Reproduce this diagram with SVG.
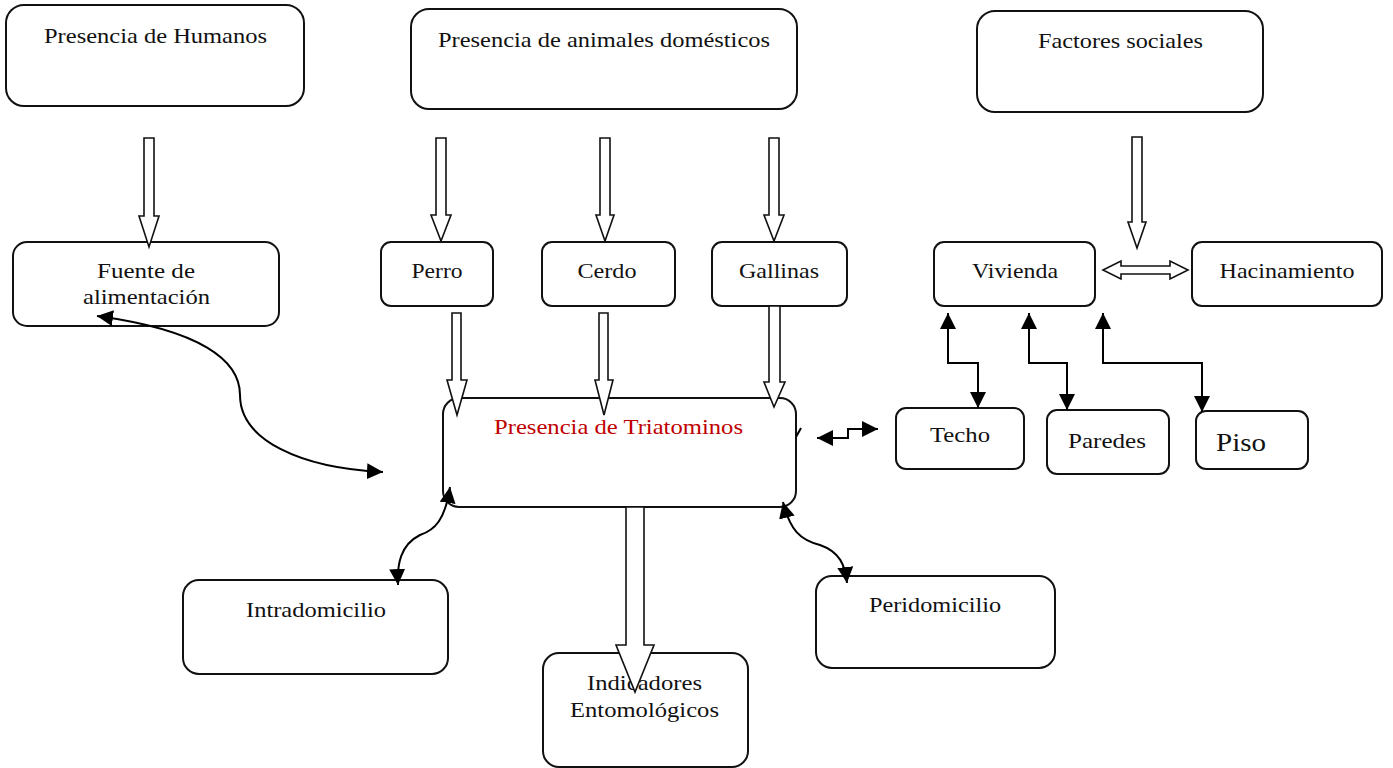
<svg xmlns="http://www.w3.org/2000/svg" width="1393" height="768" viewBox="0 0 1393 768">
<style>
.box{fill:#fff;stroke:#111;stroke-width:2}
.t{font-size:22px;fill:#111;text-anchor:middle}
.red{fill:#c00000}
.ha{fill:#fff;stroke:#111;stroke-width:1.6;stroke-linejoin:miter}
.ln{fill:none;stroke:#000;stroke-width:2;marker-start:url(#ah);marker-end:url(#ah)}
</style>
<defs>
<marker id="ah" viewBox="0 0 10 10" refX="10" refY="5" markerUnits="userSpaceOnUse" markerWidth="16" markerHeight="16" orient="auto-start-reverse">
<path d="M0,0 L10,5 L0,10 z" fill="#000"/>
</marker>
</defs>
<rect width="1393" height="768" fill="#fff"/>
<g id="nodes" font-family="'Liberation Serif', 'Times New Roman', Times, serif">
<g id="n_humanos"><rect class="box" x="6" y="5" width="298" height="101" rx="18"/><text class="t" x="155.5" y="43" textLength="223" lengthAdjust="spacingAndGlyphs">Presencia de Humanos</text></g>
<g id="n_animales"><rect class="box" x="411" y="9" width="386" height="100" rx="18"/><text class="t" x="604" y="47" textLength="332" lengthAdjust="spacingAndGlyphs">Presencia de animales domésticos</text></g>
<g id="n_sociales"><rect class="box" x="977" y="11" width="286" height="101" rx="18"/><text class="t" x="1120.5" y="48" textLength="165" lengthAdjust="spacingAndGlyphs">Factores sociales</text></g>
<g id="n_fuente"><rect class="box" x="13" y="242" width="266" height="84" rx="14"/><text class="t" x="146" y="278" textLength="98" lengthAdjust="spacingAndGlyphs">Fuente de</text><text class="t" x="146.5" y="304" textLength="127" lengthAdjust="spacingAndGlyphs">alimentación</text></g>
<g id="n_perro"><rect class="box" x="381" y="242" width="112" height="64" rx="10"/><text class="t" x="437" y="278" textLength="51" lengthAdjust="spacingAndGlyphs">Perro</text></g>
<g id="n_cerdo"><rect class="box" x="542" y="242" width="133" height="64" rx="10"/><text class="t" x="607" y="278" textLength="59" lengthAdjust="spacingAndGlyphs">Cerdo</text></g>
<g id="n_gallinas"><rect class="box" x="712" y="242" width="135" height="64" rx="10"/><text class="t" x="779" y="278" textLength="80" lengthAdjust="spacingAndGlyphs">Gallinas</text></g>
<g id="n_vivienda"><rect class="box" x="934" y="242" width="161" height="64" rx="10"/><text class="t" x="1015" y="278" textLength="86" lengthAdjust="spacingAndGlyphs">Vivienda</text></g>
<g id="n_hacinamiento"><rect class="box" x="1192" y="242" width="190" height="64" rx="10"/><text class="t" x="1287" y="278" textLength="135" lengthAdjust="spacingAndGlyphs">Hacinamiento</text></g>
<g id="n_techo"><rect class="box" x="896" y="408" width="128" height="61" rx="10"/><text class="t" x="960" y="442" textLength="60" lengthAdjust="spacingAndGlyphs">Techo</text></g>
<g id="n_paredes"><rect class="box" x="1047" y="410" width="122" height="64" rx="10"/><text class="t" x="1107" y="448" textLength="78" lengthAdjust="spacingAndGlyphs">Paredes</text></g>
<g id="n_piso"><rect class="box" x="1196" y="411" width="112" height="58" rx="10"/><text class="t" x="1241" y="451" font-size="26" style="font-size:26px" textLength="50" lengthAdjust="spacingAndGlyphs">Piso</text></g>
<g id="n_triatominos"><rect class="box" x="443" y="398" width="353" height="109" rx="16"/><text class="t red" x="618.5" y="434" textLength="249" lengthAdjust="spacingAndGlyphs">Presencia de Triatominos</text></g>
<g id="n_intra"><rect class="box" x="183" y="580" width="265" height="94" rx="16"/><text class="t" x="316" y="617" textLength="140" lengthAdjust="spacingAndGlyphs">Intradomicilio</text></g>
<g id="n_peri"><rect class="box" x="816" y="576" width="239" height="92" rx="16"/><text class="t" x="935" y="612" textLength="132" lengthAdjust="spacingAndGlyphs">Peridomicilio</text></g>
<g id="n_indicadores"><rect class="box" x="543" y="653" width="205" height="114" rx="16"/><text class="t" x="644.5" y="690" textLength="115" lengthAdjust="spacingAndGlyphs">Indicadores</text><text class="t" x="644.5" y="717" textLength="149" lengthAdjust="spacingAndGlyphs">Entomológicos</text></g>
</g>
<g id="connectors">
<polygon class="ha" points="144,138 154,138 154,216 159,216 149,247 139,216 144,216"/>
<polygon class="ha" points="436,138 446,138 446,215 451,215 441,241 431,215 436,215"/>
<polygon class="ha" points="600,138 610,138 610,215 614,215 605,241 596,215 600,215"/>
<polygon class="ha" points="769,138 779,138 779,215 784,215 774,241 764,215 769,215"/>
<polygon class="ha" points="1132,137 1142,137 1142,222 1146,222 1137,248 1128,222 1132,222"/>
<polygon class="ha" points="452,313 461,313 461,380 467,380 457,415 447,380 452,380"/>
<polygon class="ha" points="599,313 608,313 608,380 613,380 604,415 595,380 599,380"/>
<polygon class="ha" points="769,306 780,306 780,382 785,382 774,407 764,382 769,382"/>
<polygon class="ha" points="626,507 644,507 644,645 654,645 635,692 616,645 626,645"/>
<polygon class="ha" points="1103,270 1121,261 1121,266 1170,266 1170,261 1188,270 1170,279 1170,274 1121,274 1121,279"/>
<path class="ln" d="M948,313 V363 H978 V408"/>
<path class="ln" d="M1029,313 V363 H1067 V410"/>
<path class="ln" d="M1103,313 V363 H1202 V412"/>
<path class="ln" d="M817,438 H848 V429 H878"/>
<path class="ln" d="M97,316 C200,330 240,360 240,395 C240,440 300,468 383,472"/>
<path class="ln" d="M450,487 C445,520 435,530 420,535 C400,545 397,565 398,585"/>
<path class="ln" d="M783,502 C790,530 800,540 820,545 C840,552 845,565 847,583"/>
<line x1="796" y1="437" x2="801" y2="428" stroke="#000" stroke-width="2"/>
</g>
</svg>
